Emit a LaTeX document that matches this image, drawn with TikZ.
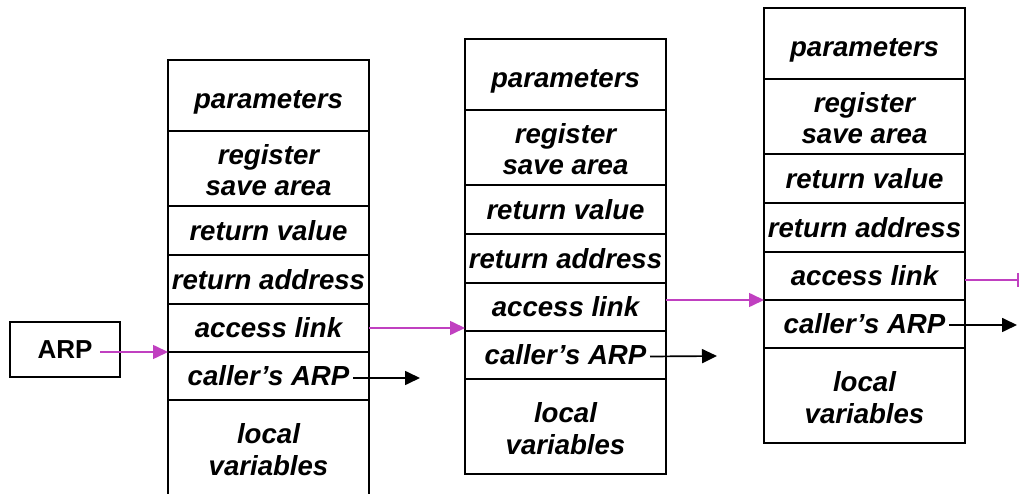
\documentclass[tikz,border=0pt]{standalone}
\usepackage{fontspec}
\setmainfont{Liberation Sans}
\usetikzlibrary{arrows.meta,calc}
\definecolor{linkmag}{RGB}{192,64,192}
\tikzset{
  cell/.style={draw=black, line width=2.2pt, fill=white, minimum width=201pt, outer sep=0pt,
    inner sep=0pt, align=center, anchor=north,
    font=\fontsize{27.6}{31.5}\selectfont\bfseries\itshape},
  arpbox/.style={draw=black, line width=2.2pt, minimum width=110pt, minimum height=55pt,
    outer sep=0pt, inner sep=0pt, font=\fontsize{26}{30}\selectfont\bfseries},
  linkarrow/.style={draw=linkmag, line width=1.6pt, -{Triangle[length=15pt,width=14pt]}},
  linkbar/.style={draw=linkmag, line width=1.6pt, -{Bar[width=14pt,line width=1.6pt]}},
  callarrow/.style={draw=black, line width=1.7pt, -{Triangle[length=15pt,width=14pt]}}
}
\newcommand\mkstack[3]{%
  \node[cell, minimum height=71pt] (#1p) at (#2,#3) {\rule{0pt}{31pt}parameters};
  \node[cell, minimum height=75pt] (#1r) at (#1p.south) {\rule{0pt}{23pt}register\\save area};
  \node[cell, minimum height=49pt] (#1v) at (#1r.south) {return value};
  \node[cell, minimum height=49pt] (#1a) at (#1v.south) {return address};
  \node[cell, minimum height=48pt] (#1l) at (#1a.south) {access link};
  \node[cell, minimum height=48pt] (#1c) at (#1l.south) {caller’s ARP};
  \node[cell, minimum height=95pt] (#1o) at (#1c.south) {\rule{0pt}{24pt}local\\variables};
}
\begin{document}
\begin{tikzpicture}[x=1pt, y=-1pt]
  \useasboundingbox (0,0) rectangle (1021,494);
  \mkstack{sa}{268.5}{60}
  \mkstack{sb}{565.5}{39}
  \mkstack{sc}{864.5}{8}
  \node[arpbox] (arp) at (65,349.5) {ARP};
  \coordinate (ca1) at (420,378);
  \coordinate (ca2) at (717,356);
  \coordinate (ca3) at (1017,325);
  \coordinate (alend) at (1019,280);
  % ARP pointer
  \draw[linkarrow] ([xshift=-20pt,yshift=-2.5pt]arp.east) -- (sal.south west);
  % access links
  \draw[linkarrow] (sal.east) -- (sal.east -| sbl.west);
  \draw[linkarrow] (sbl.east |- scl.south west) -- (scl.south west);
  \draw[linkbar] ([yshift=-4pt]scl.east) -- (alend);
  % caller's ARP pointers
  \draw[callarrow] ([xshift=-16pt,yshift=-2pt]sac.east) -- (ca1);
  \draw[callarrow] ([xshift=-16pt,yshift=-1.5pt]sbc.east) -- (ca2);
  \draw[callarrow] ([xshift=-16pt,yshift=-1pt]scc.east) -- (ca3);
\end{tikzpicture}
\end{document}
